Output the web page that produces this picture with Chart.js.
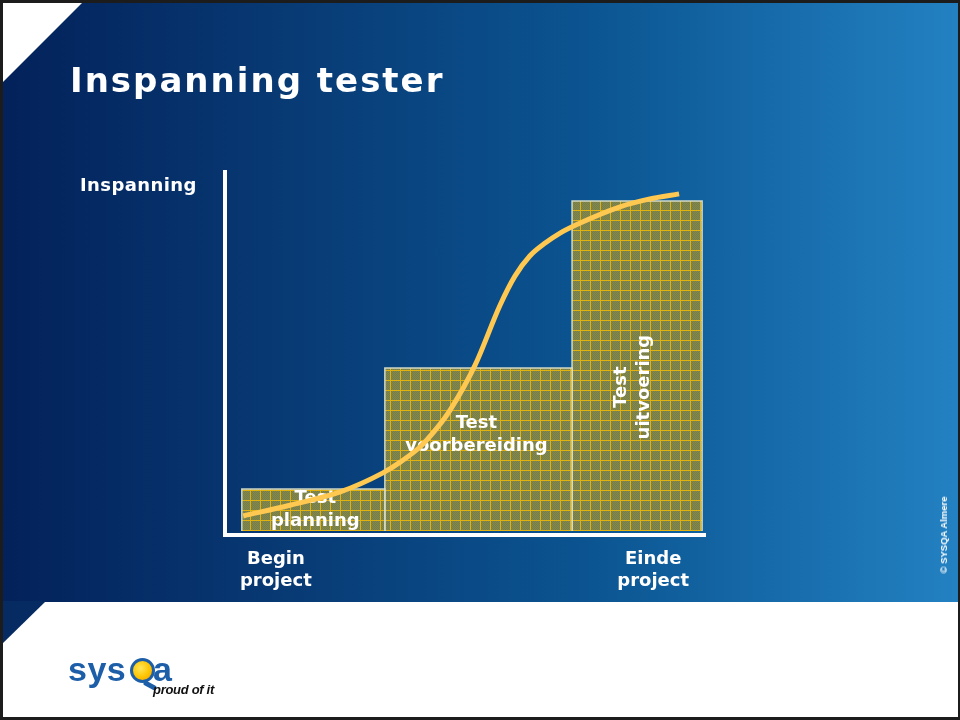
<!DOCTYPE html>
<html>
<head>
<meta charset="utf-8">
<title>Inspanning tester</title>
<script src="https://cdn.jsdelivr.net/npm/chart.js@4.4.0/dist/chart.umd.min.js"></script>
<style>
  html, body { margin: 0; padding: 0; background: #fff; }
  #slide { position: relative; width: 960px; height: 720px; overflow: hidden; background: #fff; }
  #band {
    position: absolute; left: 0; top: 0; width: 960px; height: 602px;
    background: linear-gradient(to right, #03215a 0%, #083a74 30%, #0b5592 62%, #2381c2 100%);
  }
  #cornerTop {
    position: absolute; left: 0; top: 0; width: 85px; height: 85px; background: #fff;
    clip-path: polygon(0 0, 100% 0, 0 100%);
  }
  #cornerBottom {
    position: absolute; left: 0; top: 601px; width: 46px; height: 45px; background: #062a62;
    clip-path: polygon(0 0, 100% 0, 0 100%);
  }
  canvas { position: absolute; left: 0; top: 0; }
  .txt { position: absolute; color: #fff; white-space: nowrap; font-family: "DejaVu Sans", sans-serif; font-weight: bold; }
  #title { left: 70px; top: 63px; font-size: 34px; line-height: 34px; letter-spacing: 2px; }
  #yLabel { left: 80px; top: 176px; font-size: 18px; line-height: 18px; letter-spacing: 0.4px; }
  #copy {
    left: 944px; top: 535px; font-family: "Liberation Sans", sans-serif; font-size: 9.5px; line-height: 10px;
    transform: translate(-50%, -50%) rotate(-90deg);
  }
  #logo { position: absolute; left: 0; top: 0; }
  .logoTxt { position: absolute; font-family: "Liberation Sans", sans-serif; font-weight: bold; color: #1d5ea8; font-size: 34px; line-height: 34px; white-space: nowrap; }
  #q {
    position: absolute; left: 130px; top: 658px; width: 19px; height: 19px; border: 3.5px solid #1d5ea8; border-radius: 50%;
    background: radial-gradient(circle at 40% 38%, #ffe75a 0%, #ffc400 55%, #f29a00 100%);
  }
  #qTail { position: absolute; left: 143px; top: 683px; width: 14px; height: 5px; background: #1d5ea8; transform: rotate(28deg); border-radius: 2px; }
  #proud { position: absolute; left: 153px; top: 683px; white-space: nowrap; font-family: "Liberation Sans", sans-serif; font-style: italic; font-weight: bold; font-size: 13px; line-height: 13px; color: #111; letter-spacing: -0.3px; }
  #frame { position: absolute; left: 0; top: 0; width: 960px; height: 720px; box-sizing: border-box; border: 2px solid #1c1c1c; border-width: 3px 2px 3px 3px; pointer-events: none; }
</style>
</head>
<body>
<div id="slide">
  <div id="band"></div>
  <div id="cornerTop"></div>
  <div id="cornerBottom"></div>
  <canvas id="myChart" width="960" height="720"></canvas>
  <div class="txt" id="title">Inspanning tester</div>
  <div class="txt" id="yLabel">Inspanning</div>
  <div class="txt" id="copy">© SYSQA Almere</div>
  <div id="logo">
    <div class="logoTxt" style="left:68px; top:652px; letter-spacing:0.5px;">sys</div>
    <div id="q"></div>
    <div id="qTail"></div>
    <div class="logoTxt" style="left:153px; top:652px;">a</div>
    <div id="proud">proud of it</div>
  </div>
  <div id="frame"></div>
</div>
<script>
// test phases: boundaries on the time axis and effort level of each block
const phaseEdges = [3.5, 33.3, 72.3, 99.4];
const phaseEffort = [11.7, 45.4, 91.9];
const phaseNames = [["Test", "planning"], ["Test", "voorbereiding"], ["Test", "uitvoering"]];

// effort curve of the tester
const curveTime = [3.8, 13.5, 24.0, 32.9, 36.5, 40.6, 43.8, 46.9, 52.1, 57.3, 60.4, 63.5, 66.7, 69.8, 74.0, 82.3, 88.5, 94.6];
const curveEffort = [4.2, 7.2, 10.9, 16.2, 19.2, 23.4, 28.1, 33.7, 46.2, 62.9, 71.0, 76.6, 80.2, 83.0, 85.8, 90.3, 92.5, 93.9];

// x axis labels
const xTickValues = [10.6, 89.2];
const xTickLabels = [["Begin", "project"], ["Einde", "project"]];

// where each block label sits relative to the block centre
const labelStyle = [
    { dx: 2, dy: 0, rot: 0 },
    { dx: -2, dy: -15, rot: 0 },
    { dx: -4, dy: 21, rot: -Math.PI / 2 }
];

function gridPattern() {
    const c = document.createElement("canvas");
    c.width = 10;
    c.height = 10;
    const g = c.getContext("2d");
    for (let i = 0; i < 10; i++) {
        for (let j = 0; j < 10; j++) {
            g.fillStyle = (i + j) % 2 ? "#878844" : "#737d52";
            g.fillRect(i, j, 1, 1);
        }
    }
    g.fillStyle = "#e2b20e";
    g.fillRect(0, 0, 10, 1);
    g.fillRect(0, 0, 1, 10);
    return g.createPattern(c, "repeat");
}

const barLabels = {
    id: "barLabels",
    afterDatasetDraw(chart, args) {
        const i = args.index;
        if (i >= phaseNames.length) return;
        const xs = chart.scales.x, ys = chart.scales.y;
        const cx = (xs.getPixelForValue(phaseEdges[i]) + xs.getPixelForValue(phaseEdges[i + 1])) / 2;
        const cy = (ys.getPixelForValue(0) + ys.getPixelForValue(phaseEffort[i])) / 2;
        const st = labelStyle[i];
        const ctx = chart.ctx;
        ctx.save();
        ctx.font = 'bold 18px "DejaVu Sans"';
        ctx.fillStyle = "#ffffff";
        ctx.textAlign = "center";
        ctx.textBaseline = "middle";
        ctx.translate(cx + st.dx, cy + st.dy);
        ctx.rotate(st.rot);
        const lines = phaseNames[i];
        lines.forEach((t, k) => ctx.fillText(t, 0, (k - (lines.length - 1) / 2) * 23));
        ctx.restore();
    }
};

const pattern = gridPattern();
const datasets = phaseEffort.map((h, i) => ({
    data: [
        { x: phaseEdges[i], y: 0 },
        { x: phaseEdges[i], y: h },
        { x: phaseEdges[i + 1], y: h },
        { x: phaseEdges[i + 1], y: 0 }
    ],
    backgroundColor: pattern,
    borderColor: "rgba(225,228,205,0.9)",
    borderWidth: 1.5,
    fill: "origin",
    tension: 0,
    pointRadius: 0,
    order: 1
}));
datasets.push({
    data: curveTime.map((t, i) => ({ x: t, y: curveEffort[i] })),
    borderColor: "#ffc850",
    borderWidth: 5,
    fill: false,
    cubicInterpolationMode: "monotone",
    pointRadius: 0,
    order: 0
});

const myChartRef = document.getElementById("myChart").getContext("2d");
new Chart(myChartRef, {
    type: "line",
    data: { datasets: datasets },
    plugins: [barLabels],
    options: {
        responsive: false,
        animation: false,
        devicePixelRatio: 1,
        layout: { padding: { left: 225, right: 255, top: 172, bottom: 125 } },
        plugins: { legend: { display: false }, tooltip: { enabled: false } },
        scales: {
            x: {
                type: "linear",
                min: 0,
                max: 100,
                grid: { display: false, drawTicks: false },
                border: { display: true, color: "#ffffff", width: 4 },
                afterBuildTicks: (scale) => { scale.ticks = xTickValues.map(v => ({ value: v })); },
                afterFit: (scale) => { scale.height = 60; },
                ticks: {
                    autoSkip: false,
                    maxRotation: 0,
                    padding: 13,
                    color: "#ffffff",
                    font: { family: "DejaVu Sans", weight: "bold", size: 18, lineHeight: 1.22 },
                    callback: (value, index) => xTickLabels[index]
                }
            },
            y: {
                min: -1.1,
                max: 100,
                grid: { display: false, drawTicks: false },
                border: { display: true, color: "#ffffff", width: 4 },
                ticks: { display: false },
                afterFit: (scale) => { scale.width = 0; }
            }
        }
    }
});
</script>
</body>
</html>
